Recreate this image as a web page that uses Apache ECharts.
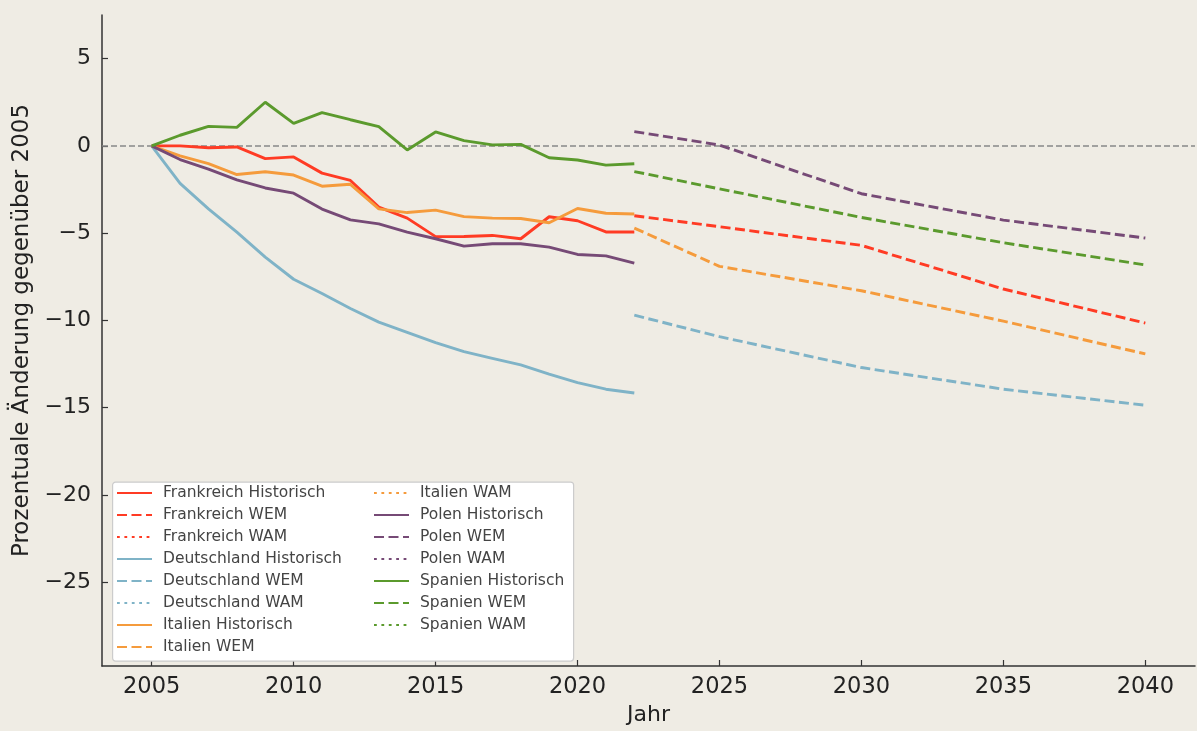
<!DOCTYPE html>
<html>
<head>
<meta charset="utf-8">
<script src="https://cdn.jsdelivr.net/npm/echarts@6/dist/echarts.min.js"></script>
<style>
html,body{margin:0;padding:0;background:#efece4;}
#chart{width:1197px;height:731px;}
</style>
</head>
<body>
<div id="chart"></div>
<script>
const histYears = [2005,2006,2007,2008,2009,2010,2011,2012,2013,2014,2015,2016,2017,2018,2019,2020,2021,2022];
const projYears = [2022,2025,2030,2035,2040];
const xTicks = [2005,2010,2015,2020,2025,2030,2035,2040];
const yTicks = [-25,-20,-15,-10,-5,0,5];

const countries = ['Frankreich','Deutschland','Italien','Polen','Spanien'];
const colors = ['#ff3b24','#7fb3c7','#f59b3c','#764a76','#5b9a2d'];

const franceHist = [0,0.0,-0.11,-0.06,-0.73,-0.63,-1.56,-1.98,-3.51,-4.14,-5.2,-5.19,-5.13,-5.32,-4.06,-4.29,-4.93,-4.93];
const germanyHist = [0,-2.15,-3.61,-4.94,-6.37,-7.64,-8.46,-9.32,-10.10,-10.68,-11.27,-11.79,-12.17,-12.55,-13.08,-13.56,-13.94,-14.16];
const italyHist = [0,-0.57,-1.02,-1.64,-1.48,-1.67,-2.31,-2.20,-3.61,-3.82,-3.68,-4.05,-4.14,-4.16,-4.40,-3.59,-3.86,-3.90];
const polandHist = [0,-0.78,-1.33,-1.95,-2.41,-2.71,-3.62,-4.24,-4.47,-4.94,-5.32,-5.74,-5.61,-5.61,-5.80,-6.22,-6.30,-6.72];
const spainHist = [0,0.61,1.12,1.06,2.50,1.29,1.91,1.50,1.10,-0.23,0.80,0.30,0.06,0.09,-0.68,-0.81,-1.10,-1.02];

const franceWEM = [-4.0,-4.63,-5.70,-8.2,-10.15];
const germanyWEM = [-9.7,-10.93,-12.7,-13.94,-14.86];
const italyWEM = [-4.71,-6.9,-8.3,-10.04,-11.92];
const polandWEM = [0.82,0.05,-2.74,-4.25,-5.28];
const spainWEM = [-1.47,-2.46,-4.1,-5.55,-6.82];

// WAM scenarios: no values visible in the chart
const franceWAM = [];
const germanyWAM = [];
const italyWAM = [];
const polandWAM = [];
const spainWAM = [];

const hist = [franceHist, germanyHist, italyHist, polandHist, spainHist];
const wem = [franceWEM, germanyWEM, italyWEM, polandWEM, spainWEM];
const wam = [franceWAM, germanyWAM, italyWAM, polandWAM, spainWAM];

const FONT = 'DejaVu Sans';
const LW = 2.9;
const series = [];
const legendNames = [];
countries.forEach((c, i) => {
  const base = {type:'line', symbol:'none', showSymbol:false, silent:true, animation:false, color: colors[i]};
  series.push(Object.assign({}, base, {
    name: c + ' Historisch',
    data: histYears.map((y, k) => [y, hist[i][k]]),
    lineStyle: {color: colors[i], width: LW, type: 'solid'},
    z: 3
  }));
  series.push(Object.assign({}, base, {
    name: c + ' WEM',
    data: wem[i].map((v, k) => [projYears[k], v]),
    lineStyle: {color: colors[i], width: LW, type: [10, 4.5]},
    z: 3
  }));
  series.push(Object.assign({}, base, {
    name: c + ' WAM',
    data: wam[i].map((v, k) => [projYears[k], v]),
    lineStyle: {color: colors[i], width: LW, type: [2.8, 4.6]},
    z: 3
  }));
  legendNames.push(c + ' Historisch', c + ' WEM', c + ' WAM');
});

series[0].markLine = {
  silent: true, symbol: 'none', animation: false,
  label: {show: false},
  lineStyle: {color: '#888888', width: 1.5, type: [6, 3]},
  data: [{yAxis: 0}],
  z: 1
};

const legendCommon = {
  orient: 'vertical', padding: 0, itemWidth: 35, itemHeight: 14, itemGap: 6,
  selectedMode: false,
  itemStyle: {opacity: 0, borderWidth: 0},
  textStyle: {fontFamily: FONT, fontSize: 15.5, color: '#444444', padding: [0,0,0,6]},
  z: 10
};

const chart = echarts.init(document.getElementById('chart'), null, {renderer: 'canvas'});
chart.setOption({
  backgroundColor: '#efece4',
  animation: false,
  grid: {left: 102, right: 2, top: 15, bottom: 64, containLabel: false},
  xAxis: {
    type: 'value', min: 2003.25, max: 2041.75,
    name: 'Jahr', nameLocation: 'middle', nameGap: 38,
    nameTextStyle: {fontFamily: FONT, fontSize: 22, color: '#222'},
    axisLine: {show: true, onZero: false, lineStyle: {color: '#333', width: 1.5}},
    axisTick: {show: true, inside: true, length: 6, customValues: xTicks, lineStyle: {color: '#333', width: 1.2}},
    axisLabel: {customValues: xTicks, margin: 10, fontFamily: FONT, fontSize: 22.5, color: '#222',
      formatter: v => String(v)},
    splitLine: {show: false}
  },
  yAxis: {
    type: 'value', min: -29.8, max: 7.5,
    name: 'Prozentuale Änderung gegenüber 2005', nameLocation: 'middle', nameGap: 64,
    nameTextStyle: {fontFamily: FONT, fontSize: 23, color: '#222', padding: [0,0,0,20]},
    axisLine: {show: true, onZero: false, lineStyle: {color: '#333', width: 1.5}},
    axisTick: {show: true, inside: true, length: 6, customValues: yTicks, lineStyle: {color: '#333', width: 1.2}},
    axisLabel: {customValues: yTicks, margin: 11, fontFamily: FONT, fontSize: 22, color: '#222',
      formatter: v => (v < 0 ? '\u2212' + Math.abs(v) : String(v))},
    splitLine: {show: false}
  },
  graphic: [{
    type: 'rect', left: 112, top: 481.5, z: 5,
    shape: {width: 461, height: 179, r: 3},
    style: {fill: '#ffffff', stroke: '#cccccc', lineWidth: 1.2}
  }],
  legend: [
    Object.assign({}, legendCommon, {left: 116, top: 485, data: legendNames.slice(0, 8)}),
    Object.assign({}, legendCommon, {left: 373, top: 485, data: legendNames.slice(8)})
  ],
  series: series
});
</script>
</body>
</html>
